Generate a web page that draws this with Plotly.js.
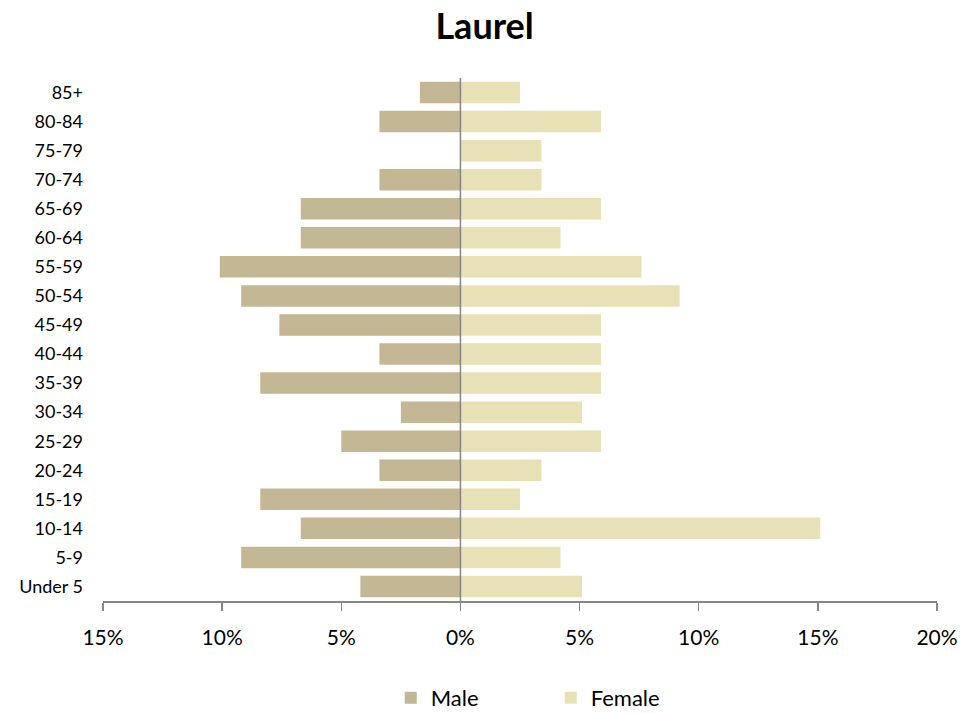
<!DOCTYPE html>
<html>
<head>
<meta charset="utf-8">
<script src="https://cdn.plot.ly/plotly-3.0.1.min.js"></script>
<style>html,body{margin:0;padding:0;background:#fff;}#chart{width:979px;height:713px;}</style>
</head>
<body>
<div id="chart"></div>
<script>
var ageGroups = ["Under 5","5-9","10-14","15-19","20-24","25-29","30-34","35-39","40-44","45-49","50-54","55-59","60-64","65-69","70-74","75-79","80-84","85+"];
var malePct   = [4.2, 9.2, 6.7, 8.4, 3.4, 5.0, 2.5, 8.4, 3.4, 7.6, 9.2, 10.1, 6.7, 6.7, 3.4, 0, 3.4, 1.7];
var femalePct = [5.1, 4.2, 15.1, 2.5, 3.4, 5.9, 5.1, 5.9, 5.9, 5.9, 9.2, 7.6, 4.2, 5.9, 3.4, 3.4, 5.9, 2.5];
var tickVals  = [-15, -10, -5, 0, 5, 10, 15, 20];
var tickText  = ["15%", "10%", "5%", "0%", "5%", "10%", "15%", "20%"];

var font = "Lato, Carlito, Calibri, 'Noto Sans', sans-serif";

var male = {
  type: "bar", orientation: "h", name: "Male",
  y: ageGroups, x: malePct.map(function(v){return -v;}),
  marker: {color: "#C4B793", line: {width: 0}},
  hoverinfo: "skip"
};
var female = {
  type: "bar", orientation: "h", name: "Female",
  y: ageGroups, x: femalePct,
  marker: {color: "#E8E1B5", line: {width: 0}},
  hoverinfo: "skip"
};

var layout = {
  width: 979, height: 713,
  margin: {l: 103, r: 42, t: 78, b: 112, autoexpand: false},
  paper_bgcolor: "#fff", plot_bgcolor: "#fff",
  font: {family: font, color: "#000"},
  title: {text: "<b>Laurel</b>", font: {family: font, size: 36, color: "#000"}, x: 0.495, xanchor: "center", y: 0.963, yanchor: "middle"},
  barmode: "relative",
  bargap: 0.26,
  showlegend: true,
  legend: {orientation: "h", x: 0.345, xanchor: "left", yref: "container", y: 0.021, yanchor: "middle",
           font: {family: font, size: 22, color: "#000"}, entrywidth: 115, traceorder: "normal"},
  xaxis: {
    range: [-15, 20], tickvals: tickVals, ticktext: tickText,
    showgrid: false, zeroline: false,
    showline: true, linecolor: "#868686", linewidth: 1.5,
    ticks: "outside", ticklen: 8, tickcolor: "#868686", tickwidth: 1.5,
    ticklabelstandoff: 9,
    tickfont: {family: font, size: 21, color: "#000"},
    fixedrange: true
  },
  yaxis: {
    type: "category", categoryorder: "array", categoryarray: ageGroups,
    showgrid: false, zeroline: false, showline: false, ticks: "",
    ticklabelstandoff: 19,
    tickfont: {family: font, size: 18, color: "#000"},
    fixedrange: true
  },
  shapes: [{type: "line", xref: "x", yref: "paper", x0: 0, x1: 0, y0: 0, y1: 1,
            line: {color: "#868686", width: 1.5}, layer: "above"}]
};

Plotly.newPlot("chart", [male, female], layout, {displayModeBar: false, staticPlot: true});
</script>
</body>
</html>
